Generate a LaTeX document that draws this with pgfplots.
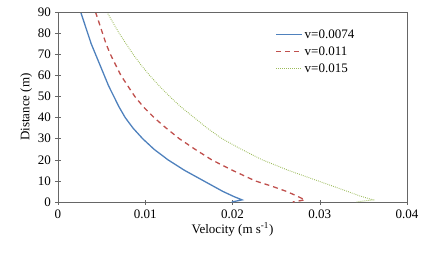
\documentclass[border=0pt]{standalone}
\usepackage{pgfplots}
\pgfplotsset{compat=1.18}
\usepackage{fontspec}
\setmainfont{Liberation Serif}
\definecolor{cblue}{RGB}{79,129,189}
\definecolor{cred}{RGB}{192,80,77}
\definecolor{cgreen}{RGB}{155,187,89}
\begin{document}
\begin{tikzpicture}
\begin{axis}[
  scale only axis,
  width=349pt, height=190pt,
  xmin=0, xmax=0.04, ymin=0, ymax=90,
  xtick={0,0.01,0.02,0.03,0.04},
  xticklabels={0,0.01,0.02,0.03,0.04},
  ytick={0,10,...,90},
  /pgf/number format/assume math mode=true,
  tick label style={font=\fontsize{13}{15}\selectfont},
  label style={font=\fontsize{13}{15}\selectfont},
  xticklabel style={yshift=-2pt},
  yticklabel style={xshift=-1pt},
  xlabel={Velocity (m s\textsuperscript{-1})},
  ylabel={Distance (m)},
  xlabel style={yshift=3pt},
  ylabel style={yshift=-1pt},
  axis line style={draw=gray!80!black},
  tick style={draw=gray!80!black, thin},
  tick align=center,
  major tick length=5pt,
  xtick pos=bottom, ytick pos=left,
  scaled x ticks=false,
  legend style={draw=none, fill=none, at={(0.615,0.93)}, anchor=north west,
    font=\fontsize{13}{15}\selectfont, row sep=3pt},
  legend cell align=left,
  legend image code/.code={\draw[#1] (0cm,0cm) -- (0.9cm,0cm);},
]
\addplot[cblue, line width=1.3pt] coordinates {
(0.0026,90) (0.0030,85) (0.0034,80) (0.0038,75) (0.0043,70) (0.0048,65)
(0.0053,60) (0.0058,55) (0.0064,50) (0.0070,45) (0.0077,40) (0.0086,35)
(0.0097,30) (0.0110,25) (0.0126,20) (0.0145,15) (0.0167,10) (0.0189,5)
(0.0202,2.5) (0.0211,1) (0.0199,0)};
\addlegendentry{v=0.0074}
\addplot[cred, line width=1.3pt, dash pattern=on 5pt off 4pt] coordinates {
(0.0043,90) (0.0047,85) (0.0051,80) (0.0055,75) (0.0060,70) (0.0066,65)
(0.0072,60) (0.0080,55) (0.0088,50) (0.0098,45) (0.0110,40) (0.0124,35)
(0.0139,30) (0.0157,25) (0.0176,20) (0.0200,15) (0.0226,10) (0.0245,7.5)
(0.0262,5) (0.0273,3) (0.0283,1) (0.0269,0)};
\addlegendentry{v=0.011}
\addplot[cgreen, line width=0.9pt, dash pattern=on 0.8pt off 1.2pt] coordinates {
(0.0056,90) (0.0063,85) (0.0070,80) (0.0078,75) (0.0086,70) (0.0095,65)
(0.0105,60) (0.0116,55) (0.0128,50) (0.0141,45) (0.0156,40) (0.0171,35)
(0.0188,30) (0.0210,25) (0.0234,20) (0.0264,15) (0.0298,10) (0.0332,5)
(0.0345,3) (0.0361,1) (0.0342,0)};
\addlegendentry{v=0.015}
\draw[gray!80!black] (rel axis cs:0,1) -- (rel axis cs:1,1) -- (rel axis cs:1,0);
\end{axis}
\path (-58pt,-50pt) rectangle (375pt,202pt);
\end{tikzpicture}
\end{document}
